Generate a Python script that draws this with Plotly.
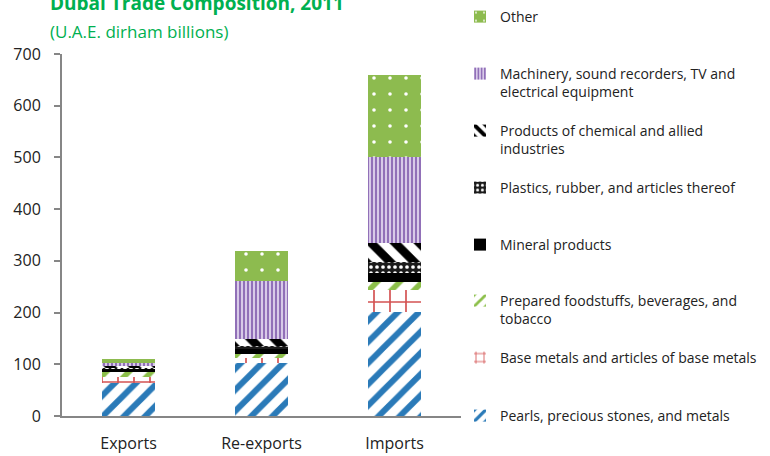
import plotly.graph_objects as go

categories = ["Exports", "Re-exports", "Imports"]

series_names = [
    "Pearls, precious stones, and metals",
    "Base metals and articles of base metals",
    "Prepared foodstuffs, beverages, and<br>tobacco",
    "Mineral products",
    "Plastics, rubber, and articles thereof",
    "Products of chemical and allied<br>industries",
    "Machinery, sound recorders, TV and<br>electrical equipment",
    "Other",
]

pearls = [63, 103, 202]
base_metals = [13, 10, 42]
foodstuffs = [10, 7, 16]
mineral = [5, 9, 16]
plastics = [3, 6, 22]
chemical = [3, 14, 36]
machinery = [6, 112, 166]
other = [8, 58, 160]

values = [pearls, base_metals, foodstuffs, mineral, plastics, chemical, machinery, other]

styles = [
    dict(color="#2A7AB8", pattern=dict(shape="/", fgcolor="#2A7AB8", bgcolor="white", size=15, solidity=0.4, fillmode="replace")),
    dict(color="#CF5050", pattern=dict(shape="+", fgcolor="#D45252", bgcolor="white", size=16, solidity=0.2, fillmode="replace")),
    dict(color="#8CBF4A", pattern=dict(shape="/", fgcolor="#8CBF4A", bgcolor="white", size=16, solidity=0.35, fillmode="replace")),
    dict(color="#000000"),
    dict(color="#222222", pattern=dict(shape=".", fgcolor="white", bgcolor="#1a1a1a", size=6, solidity=0.3, fillmode="replace")),
    dict(color="#000000", pattern=dict(shape="\\", fgcolor="#000000", bgcolor="white", size=17, solidity=0.5, fillmode="replace")),
    dict(color="#9A78BE", pattern=dict(shape="|", fgcolor="#9170B8", bgcolor="#D8CAE8", size=4, solidity=0.5, fillmode="replace")),
    dict(color="#8DBB4F", pattern=dict(shape=".", fgcolor="white", bgcolor="#8DBB4F", size=16, solidity=0.04, fillmode="replace")),
]

# Plot-area pixel geometry
W, H = 770, 456
ML, MR, MT, MB = 62, 309, 54, 40
PW = W - ML - MR
PH = H - MT - MB


def px_x(px):
    return (px - ML) / PW


def px_y(py):
    return (H - MB - py) / PH


fig = go.Figure()
legend_first_line_px = [415, 357, 300, 244, 187, 130, 73, 16]
layout_legends = {}
for i, (name, vals, st) in enumerate(zip(series_names, values, styles)):
    key = "legend" if i == 0 else f"legend{i+1}"
    m = dict(color=st["color"], line=dict(width=0))
    if "pattern" in st:
        m["pattern"] = st["pattern"]
    fig.add_trace(go.Bar(x=categories, y=vals, name=name, marker=m, legend=key))
    layout_legends[key] = dict(
        x=px_x(460), xanchor="left",
        y=px_y(legend_first_line_px[i] - 15), yanchor="top",
        valign="top", bgcolor="rgba(0,0,0,0)",
        font=dict(family="Open Sans", size=14, color="#222"),
    )

fig.update_layout(
    width=W, height=H,
    margin=dict(l=ML, r=MR, t=MT, b=MB, autoexpand=False),
    barmode="stack", bargap=0.6,
    plot_bgcolor="white", paper_bgcolor="white",
    font=dict(family="Open Sans", size=16, color="#222"),
    showlegend=True,
    **layout_legends,
)

fig.update_yaxes(
    range=[0, 700], dtick=100, showgrid=False, zeroline=False,
    showline=True, linecolor="#868686", linewidth=2,
    ticks="outside", ticklen=6, tickcolor="#868686", tickwidth=1.5,
    ticklabelstandoff=10,
    tickfont=dict(size=16, color="#222"),
)
fig.update_xaxes(
    showgrid=False, zeroline=False, showline=True, linecolor="#868686", linewidth=2,
    ticks="", tickfont=dict(size=16, color="#222"), ticklabelstandoff=12,
)

fig.add_annotation(
    text="<b>Dubai Trade Composition, 2011</b>", xref="paper", yref="paper",
    x=px_x(48), y=px_y(18), xanchor="left", yanchor="bottom", showarrow=False,
    font=dict(family="Open Sans", size=19, color="#00B050"),
)
fig.add_annotation(
    text="(U.A.E. dirham billions)", xref="paper", yref="paper",
    x=px_x(48), y=px_y(31), xanchor="left", yanchor="middle", showarrow=False,
    font=dict(family="Open Sans", size=17, color="#00B050"),
)

fig.write_html("out.html", config={"displayModeBar": False},
               post_script="document.body.style.margin='0';")
